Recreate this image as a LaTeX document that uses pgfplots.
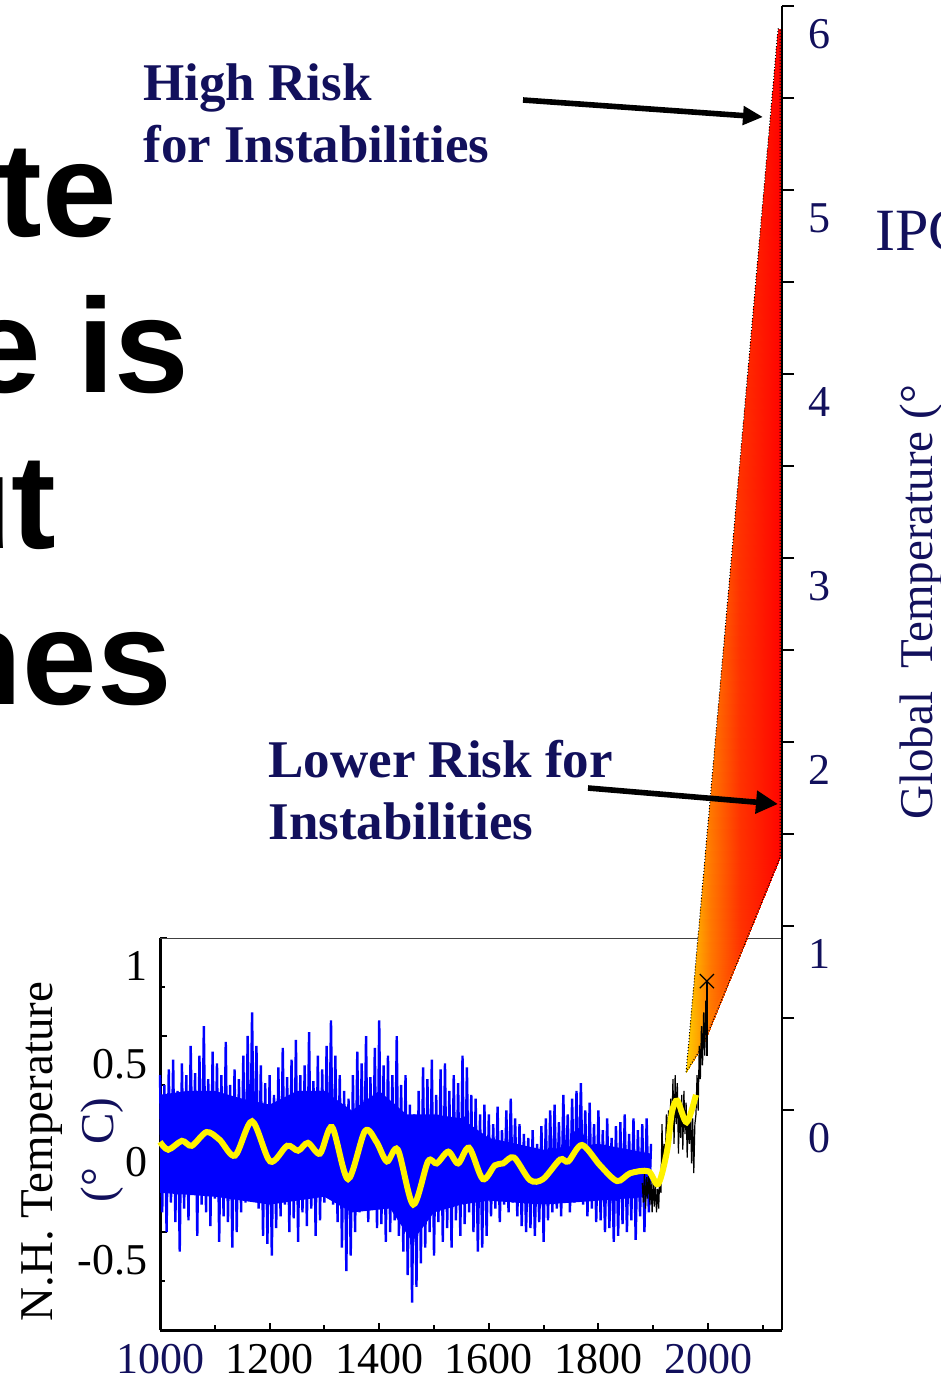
\documentclass[border=0pt]{standalone}
\usepackage{fontspec}
\setmainfont{Liberation Serif}
\newfontfamily\arialfont{Liberation Sans}
\usepackage{pgfplots}
\pgfplotsset{compat=1.18}
\usetikzlibrary{arrows.meta}
\definecolor{navy}{RGB}{18,16,92}
\begin{document}
\begin{tikzpicture}[x=0.5pt,y=-0.5pt]
\clip (0,0) rectangle (941,1376);
\coordinate (LL) at (160,1330);
% slide title fragments (cut at the left edge)
\begin{scope}[every node/.style={inner sep=0pt, anchor=base east, font=\arialfont\bfseries\fontsize{67}{70}\selectfont}]
\node at (117,236) {te};
\node at (190,392) {e is};
\node at (57,548) {ut};
\node at (172,704) {nes};
\end{scope}
% lower axis: N.H. temperature
\begin{axis}[
  at={(LL)}, anchor=south west, scale only axis,
  width=311pt, height=196pt,
  xmin=1000, xmax=2135, ymin=-1, ymax=1,
  clip=false,
  axis x line*=bottom, axis y line*=left,
  axis line style={line width=1.5pt},
  tick align=inside,
  xtick={1000,1200,1400,1600,1800,2000},
  minor xtick={1100,1300,1500,1700,1900,2100},
  xticklabels={\textcolor{navy}{1000},1200,1400,1600,1800,\textcolor{navy}{2000}},
  ytick={-0.5,0,0.5,1}, yticklabels={-0.5,0,0.5,1},
  minor ytick={-0.75,-0.25,0.25,0.75},
  major tick length=3.5pt, minor tick length=2.5pt,
  tick style={black, line width=1pt},
  ticklabel style={font=\fontsize{22}{22}\selectfont},
  yticklabel style={anchor=east, inner sep=0pt, xshift=-6pt, yshift=-14pt},
  xticklabel style={anchor=north, inner sep=0pt, yshift=-7pt},
  colormap={fan}{rgb255(0cm)=(255,205,0) rgb255(1cm)=(255,120,0) rgb255(2.2cm)=(255,50,0) rgb255(4cm)=(255,0,0)},
  point meta min=0, point meta max=1,
]
\draw[line width=0.5pt, black!75] (rel axis cs:0,1) -- (rel axis cs:1,1) -- (rel axis cs:1,0);
% dense core of the proxy reconstruction
\addplot[fill=blue, draw=none] coordinates {
(1000,0.20) (1050,0.22) (1100,0.22) (1150,0.18) (1200,0.15) (1250,0.22) (1300,0.22) (1350,0.12) (1400,0.22) (1450,0.10)
(1500,0.10) (1550,0.08) (1600,-0.02) (1700,-0.08) (1800,-0.05) (1896,-0.10)
(1896,-0.32) (1800,-0.34) (1700,-0.36) (1600,-0.34) (1550,-0.36) (1500,-0.40) (1460,-0.55) (1420,-0.38) (1350,-0.40)
(1300,-0.32) (1200,-0.36) (1100,-0.32) (1000,-0.30)
};
% proxy reconstruction (blue)
\addplot[blue, line width=1.2pt] coordinates {
(1000,0.30) (1004,-0.40) (1008,0.25) (1012,-0.50) (1016,0.33) (1020,-0.35) (1024,0.38) (1028,-0.45) (1032,0.22) (1036,-0.60)
(1040,0.36) (1044,-0.38) (1048,0.30) (1052,-0.44) (1056,0.45) (1060,-0.30) (1064,0.31) (1068,-0.52) (1072,0.40) (1076,-0.36)
(1080,0.55) (1084,-0.40) (1088,0.28) (1092,-0.47) (1096,0.42) (1100,-0.33) (1104,0.36) (1108,-0.55) (1112,0.30) (1116,-0.42)
(1120,0.47) (1124,-0.45) (1128,0.25) (1132,-0.58) (1136,0.33) (1140,-0.50) (1144,0.28) (1148,-0.40) (1152,0.40) (1156,-0.35)
(1160,0.50) (1164,-0.30) (1168,0.62) (1172,-0.28) (1176,0.45) (1180,-0.38) (1184,0.35) (1188,-0.52) (1192,0.26) (1196,-0.56)
(1200,0.30) (1204,-0.62) (1208,0.20) (1212,-0.48) (1216,0.34) (1220,-0.42) (1224,0.44) (1228,-0.36) (1232,0.29) (1236,-0.50)
(1240,0.38) (1244,-0.43) (1248,0.48) (1252,-0.55) (1256,0.30) (1260,-0.40) (1264,0.35) (1268,-0.47) (1272,0.52) (1276,-0.38)
(1280,0.27) (1284,-0.52) (1288,0.40) (1292,-0.44) (1296,0.33) (1300,-0.35) (1304,0.45) (1308,-0.30) (1312,0.58) (1316,-0.36)
(1320,0.40) (1324,-0.45) (1328,0.30) (1332,-0.58) (1336,0.22) (1340,-0.70) (1344,0.18) (1348,-0.62) (1352,0.30) (1356,-0.50)
(1360,0.42) (1364,-0.40) (1368,0.36) (1372,-0.33) (1376,0.50) (1380,-0.45) (1384,0.29) (1388,-0.38) (1392,0.44) (1396,-0.48)
(1400,0.58) (1404,-0.46) (1408,0.35) (1412,-0.55) (1416,0.40) (1420,-0.50) (1424,0.30) (1428,-0.44) (1432,0.50) (1436,-0.52)
(1440,0.25) (1444,-0.60) (1448,0.30) (1452,-0.72) (1456,0.15) (1460,-0.86) (1464,0.10) (1468,-0.78) (1472,0.22) (1476,-0.66)
(1480,0.34) (1484,-0.58) (1488,0.28) (1492,-0.50) (1496,0.38) (1500,-0.62) (1504,0.20) (1508,-0.45) (1512,0.33) (1516,-0.55)
(1520,0.36) (1524,-0.48) (1528,0.22) (1532,-0.58) (1536,0.30) (1540,-0.44) (1544,0.26) (1548,-0.52) (1552,0.40) (1556,-0.46)
(1560,0.34) (1564,-0.40) (1568,0.20) (1572,-0.50) (1576,0.18) (1580,-0.60) (1584,0.10) (1588,-0.58) (1592,0.15) (1596,-0.52)
(1600,0.10) (1604,-0.42) (1608,0.05) (1612,-0.38) (1616,0.14) (1620,-0.45) (1624,0.02) (1628,-0.36) (1632,0.12) (1636,-0.40)
(1640,0.18) (1644,-0.35) (1648,0.08) (1652,-0.42) (1656,0.05) (1660,-0.47) (1664,0.00) (1668,-0.50) (1672,-0.02) (1676,-0.48)
(1680,0.02) (1684,-0.52) (1688,-0.05) (1692,-0.45) (1696,0.04) (1700,-0.55) (1704,0.08) (1708,-0.44) (1712,0.12) (1716,-0.40)
(1720,0.15) (1724,-0.38) (1728,0.06) (1732,-0.42) (1736,0.20) (1740,-0.33) (1744,0.10) (1748,-0.40) (1752,0.18) (1756,-0.35)
(1760,0.22) (1764,-0.30) (1768,0.26) (1772,-0.36) (1776,0.12) (1780,-0.42) (1784,0.16) (1788,-0.38) (1792,0.05) (1796,-0.45)
(1800,0.12) (1804,-0.44) (1808,0.02) (1812,-0.50) (1816,0.08) (1820,-0.48) (1824,-0.02) (1828,-0.55) (1832,0.04) (1836,-0.52)
(1840,0.06) (1844,-0.46) (1848,0.10) (1852,-0.50) (1856,0.00) (1860,-0.44) (1864,0.08) (1868,-0.54) (1872,0.02) (1876,-0.42)
(1880,0.05) (1884,-0.50) (1888,0.08) (1892,-0.40) (1896,-0.05)
};
% IPCC projection fan (colour by vertex)
\addplot[patch, patch type=triangle, shader=interp, point meta=explicit] table[row sep=\\, meta=c] {
x y c\\
1960 0.316 0\\ 1990.9 0.454 0.3\\ 2071.2 1.0 0.55\\
1960 0.316 0\\ 2071.2 1.0 0.55\\ 2131.4 1.413 0.95\\
1960 0.316 0\\ 2131.4 1.413 0.95\\ 2127.7 5.638 0.95\\
2127.7 5.638 0.95\\ 2131.4 1.413 0.95\\ 2131.4 5.638 1.0\\
};
\addplot[draw=black, densely dotted, line width=0.5pt] coordinates {
(1960,0.316) (2127.7,5.638) (2131.4,5.638) (2131.4,1.413) (2071.2,1.0) (1990.9,0.454) (1960,0.316)
};
% instrumental record (black)
\addplot[black, line width=0.6pt] coordinates {
(1880,-0.25) (1882,-0.35) (1884,-0.20) (1886,-0.38) (1888,-0.22) (1890,-0.33) (1892,-0.18) (1894,-0.36) (1896,-0.24) (1898,-0.40)
(1900,-0.22) (1902,-0.37) (1904,-0.25) (1906,-0.40) (1908,-0.28) (1910,-0.38) (1912,-0.20) (1914,-0.30) (1916,0.05) (1918,-0.18)
(1920,-0.05) (1922,-0.15) (1924,0.10) (1926,-0.05) (1928,0.12) (1930,-0.02) (1932,0.18) (1934,0.02) (1936,0.28) (1938,-0.05)
(1940,0.30) (1942,0.05) (1944,0.26) (1946,-0.10) (1948,0.15) (1950,-0.02) (1952,0.20) (1954,-0.08) (1956,0.22) (1958,0.00)
(1960,0.16) (1962,-0.12) (1964,0.10) (1966,-0.05) (1968,0.12) (1970,-0.15) (1972,0.08) (1974,-0.20) (1976,0.05) (1978,0.10)
(1980,0.30) (1982,0.12) (1984,0.45) (1986,0.28) (1988,0.55) (1990,0.35) (1992,0.62) (1994,0.40) (1996,0.68) (1998,0.50)
};
\addplot[black, line width=0.6pt, mark=x, mark size=5pt, mark indices={2}] coordinates {(1998,0.40) (1998,0.78)};
% smoothed reconstruction (yellow)
\addplot[yellow, line width=3pt, smooth] coordinates {
(1000,-0.04) (1015,-0.08) (1040,-0.035) (1058,-0.06) (1085,0.01) (1109,-0.03) (1137,-0.11) (1168,0.065) (1201,-0.14) (1232,-0.06)
(1252,-0.085) (1270,-0.045) (1292,-0.10) (1314,0.035) (1343,-0.23) (1374,0.015) (1395,-0.04) (1414,-0.14) (1434,-0.08) (1462,-0.36)
(1489,-0.14) (1505,-0.15) (1526,-0.09) (1544,-0.15) (1564,-0.07) (1589,-0.23) (1611,-0.16) (1626,-0.15) (1646,-0.12) (1675,-0.235)
(1699,-0.23) (1730,-0.13) (1745,-0.14) (1770,-0.056) (1803,-0.16) (1834,-0.24) (1858,-0.20) (1891,-0.19) (1909,-0.255) (1925,-0.09)
(1934,0.11) (1944,0.17) (1961,0.06) (1978,0.20)
};
\end{axis}
% global temperature axis (right)
\begin{axis}[
  at={(LL)}, anchor=south west, scale only axis,
  width=311pt, height=662pt,
  xmin=1000, xmax=2135, ymin=-1.196, ymax=6,
  axis x line=none, axis y line*=right,
  axis line style={line width=1pt},
  ytick={0,1,2,3,4,5,6}, yticklabels={0,1,2,3,4,5,6},
  minor ytick={0.5,1.5,2.5,3.5,4.5,5.5},
  tick align=outside, major tick length=6pt, minor tick length=6pt,
  tick style={black, line width=1pt},
  yticklabel style={font=\fontsize{22}{22}\selectfont, text=navy, anchor=west, inner sep=0pt, xshift=7pt, yshift=-14pt},
]
\end{axis}
% axis titles and annotations
\node[rotate=90, anchor=base west, inner sep=0pt, font=\fontsize{23.5}{24}\selectfont] at (52,1322) {N.H. Temperature};
\node[rotate=90, anchor=base west, inner sep=0pt, font=\fontsize{23.5}{24}\selectfont, text=navy] at (113,1203) {(°\ \ C)};
\node[rotate=90, anchor=base west, inner sep=0pt, font=\fontsize{23.5}{24}\selectfont, text=navy] at (932,820) {Global\ \ Temperature (°};
\node[anchor=base west, inner sep=0pt, font=\fontsize{30}{30}\selectfont, text=navy] at (875,250) {IPCC};
\begin{scope}[every node/.style={anchor=base west, inner sep=0pt, text=navy, font=\bfseries\fontsize{26.5}{30}\selectfont}]
\node at (143,100) {High Risk};
\node at (143,162) {for Instabilities};
\node at (268,777) {Lower Risk for};
\node at (268,839) {Instabilities};
\end{scope}
\draw[line width=2.8pt, -{Triangle[length=10pt,width=9pt]}] (523,100) -- (763,117);
\draw[line width=2.8pt, -{Triangle[length=11pt,width=11pt]}] (588,788) -- (778,804);
\end{tikzpicture}
\end{document}
